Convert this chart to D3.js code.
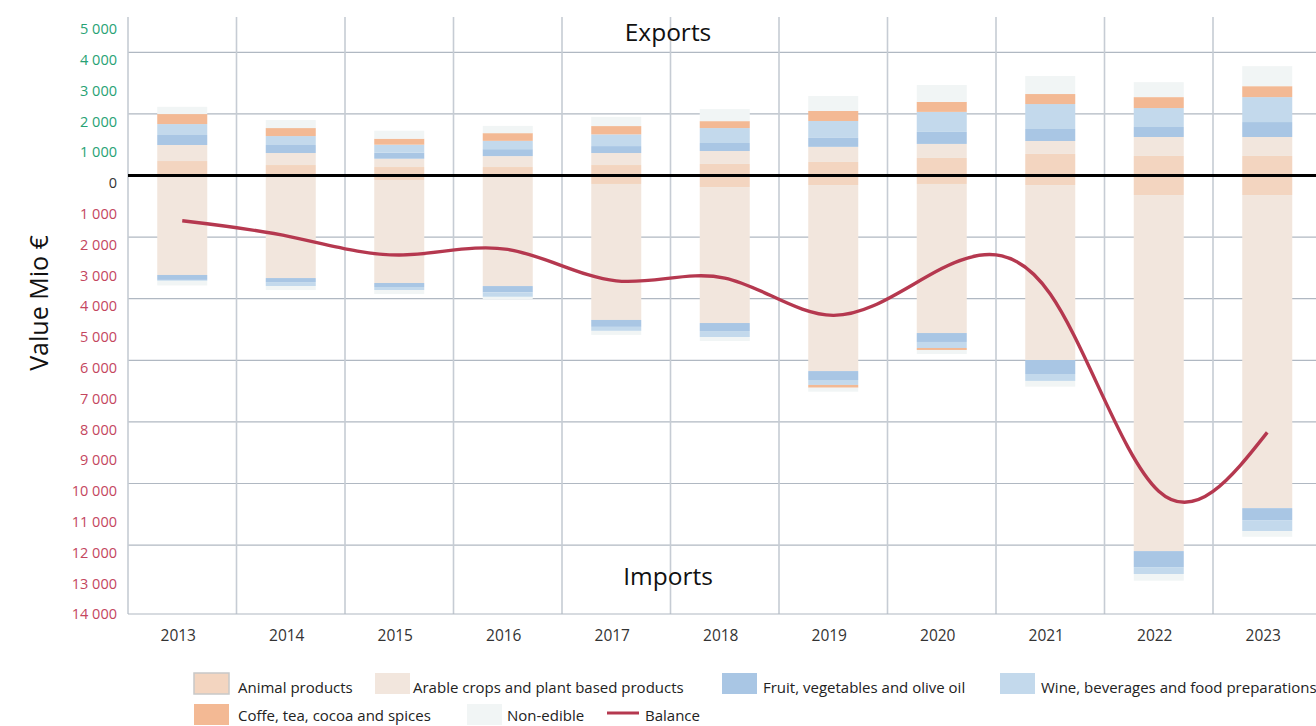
<!DOCTYPE html>
<html>
<head>
<meta charset="utf-8">
<script src="https://cdn.jsdelivr.net/npm/d3@7/dist/d3.min.js"></script>
<style>
  html, body { margin: 0; padding: 0; background: #fff; }
  svg { display: block; font-family: "Open Sans", Lato, sans-serif; }
</style>
</head>
<body>
<svg id="chart" width="1316" height="726"></svg>
<script>
// Agri-food trade by product group, Mio €
const years = ["2013", "2014", "2015", "2016", "2017", "2018", "2019", "2020", "2021", "2022", "2023"];

// Exports (stacked upwards from zero)
const animalExp    = [470, 340, 275, 275, 340, 375, 440, 570, 700, 635, 635];
const arableExp    = [520, 390, 270, 355, 390, 420, 490, 455, 420, 615, 615];
const fruitExp     = [325, 260, 195, 225, 225, 260, 290, 390, 390, 325, 485];
const wineExp      = [355, 290, 260, 270, 380, 485, 550, 650, 810, 615, 810];
const coffeeExp    = [325, 260, 195, 250, 270, 225, 325, 325, 325, 355, 355];
const nonEdibleExp = [235, 260, 260, 235, 300, 390, 485, 550, 585, 485, 650];

// Imports (stacked downwards from zero)
const animalImp    = [30, 30, 145, 30, 275, 375, 310, 275, 310, 635, 635];
const arableImp    = [3200, 3300, 3345, 3560, 4415, 4415, 6040, 4840, 5680, 11560, 10165];
const fruitImp     = [160, 130, 130, 205, 225, 260, 290, 290, 455, 520, 390];
const wineImp      = [30, 130, 100, 145, 130, 195, 160, 195, 225, 225, 355];
const coffeeImp    = [0, 0, 0, 0, 0, 0, 90, 65, 0, 0, 0];
const nonEdibleImp = [150, 130, 130, 75, 130, 130, 130, 130, 185, 215, 185];

// Trade balance (exports minus imports)
const balance = [-1470, -1990, -2580, -2400, -3420, -3330, -4540, -3020, -3850, -10250, -8340];

// Y tick values; imports shown as positive numbers below zero
const yTicks = [5000, 4000, 3000, 2000, 1000, 0, -1000, -2000, -3000, -4000, -5000, -6000,
                -7000, -8000, -9000, -10000, -11000, -12000, -13000, -14000];
const gridValues = [4000, 2000, -2000, -4000, -6000, -8000, -10000, -12000];

const groups = [
  { name: "Animal products", color: "#f3d5c0", exp: animalExp, imp: animalImp },
  { name: "Arable crops and plant based products", color: "#f2e6dd", exp: arableExp, imp: arableImp },
  { name: "Fruit, vegetables and olive oil", color: "#a9c6e4", exp: fruitExp, imp: fruitImp },
  { name: "Wine, beverages and food preparations", color: "#c3d9ec", exp: wineExp, imp: wineImp },
  { name: "Coffe, tea, cocoa and spices", color: "#f3b994", exp: coffeeExp, imp: coffeeImp },
  { name: "Non-edible", color: "#f1f5f5", exp: nonEdibleExp, imp: nonEdibleImp }
];

const svg = d3.select("#chart");
const plot = { left: 128, right: 1321.5, top: 17, bottom: 614 };

const x = d3.scaleBand()
  .domain(years)
  .range([plot.left, plot.right])
  .paddingInner(0.539)
  .paddingOuter(0.2695);
const step = x.step();
const bw = x.bandwidth();

const y = d3.scaleLinear()
  .domain([5146, -14237])
  .range([plot.top, plot.bottom]);

// Horizontal grid
svg.append("g")
  .selectAll("line")
  .data(gridValues)
  .join("line")
  .attr("x1", plot.left).attr("x2", plot.right)
  .attr("y1", d => y(d)).attr("y2", d => y(d))
  .attr("stroke", "#b0b8c2").attr("stroke-width", 1.2);

// Vertical separators between years
const seps = years.map(d => x(d) - (step - bw) / 2).concat([plot.right]);
svg.append("g")
  .selectAll("line")
  .data(seps)
  .join("line")
  .attr("x1", d => d).attr("x2", d => d)
  .attr("y1", plot.top).attr("y2", plot.bottom)
  .attr("stroke", "#c6ccd4").attr("stroke-width", 1.6);

// Stacked bars
const barsG = svg.append("g");
years.forEach((yr, i) => {
  let up = 0, down = 0;
  groups.forEach(g => {
    const ve = g.exp[i];
    if (ve > 0) {
      barsG.append("rect")
        .attr("x", x(yr)).attr("width", bw)
        .attr("y", y(up + ve)).attr("height", y(up) - y(up + ve))
        .attr("fill", g.color);
    }
    up += ve;
    const vi = g.imp[i];
    if (vi > 0) {
      barsG.append("rect")
        .attr("x", x(yr)).attr("width", bw)
        .attr("y", y(down)).attr("height", y(down - vi) - y(down))
        .attr("fill", g.color);
    }
    down -= vi;
  });
});

// Zero line
svg.append("line")
  .attr("x1", plot.left).attr("x2", plot.right)
  .attr("y1", y(0)).attr("y2", y(0))
  .attr("stroke", "#000").attr("stroke-width", 3);

// Bottom axis line
svg.append("line")
  .attr("x1", plot.left).attr("x2", plot.right)
  .attr("y1", plot.bottom).attr("y2", plot.bottom)
  .attr("stroke", "#b0b8c2").attr("stroke-width", 1.2);

// Balance line
const line = d3.line()
  .x((d, i) => x(years[i]) + bw / 2)
  .y(d => y(d))
  .curve(d3.curveNatural);
svg.append("path")
  .datum(balance)
  .attr("d", line)
  .attr("fill", "none")
  .attr("stroke", "#b5384f")
  .attr("stroke-width", 3.4)
  .attr("stroke-linejoin", "round");

// Y axis
const fmt = d3.format(",");
const yAxis = d3.axisLeft(y)
  .tickValues(yTicks)
  .tickSize(0)
  .tickPadding(11)
  .tickFormat(d => fmt(Math.abs(d)).replace(/,/g, " "));
const yg = svg.append("g")
  .attr("transform", `translate(${plot.left},0)`)
  .call(yAxis);
yg.select(".domain").remove();
yg.selectAll("text")
  .attr("y", 7.5)
  .attr("font-size", 14.5)
  .attr("font-family", "'Open Sans', Lato, sans-serif")
  .attr("fill", d => d > 0 ? "#27a274" : d < 0 ? "#c4465e" : "#333");

// X axis
const xAxis = d3.axisBottom(x).tickSize(0).tickPadding(16);
const xg = svg.append("g")
  .attr("transform", `translate(-4,${plot.bottom})`)
  .call(xAxis);
xg.select(".domain").remove();
xg.selectAll("text")
  .attr("font-size", 15.5)
  .attr("font-family", "'Open Sans', Lato, sans-serif")
  .attr("fill", "#333");

// Titles
svg.append("text")
  .attr("x", 668).attr("y", 41)
  .attr("text-anchor", "middle")
  .attr("font-size", 24.5).attr("fill", "#111")
  .text("Exports");
svg.append("text")
  .attr("x", 668).attr("y", 585)
  .attr("text-anchor", "middle")
  .attr("font-size", 24.5).attr("fill", "#111")
  .text("Imports");
svg.append("text")
  .attr("transform", "translate(48,303) rotate(-90)")
  .attr("text-anchor", "middle")
  .attr("font-size", 25).attr("fill", "#111")
  .text("Value Mio €");

// Legend
const legendItems = [
  { g: 0, sx: 194, tx: 238, row: 0, border: true },
  { g: 1, sx: 375, tx: 413, row: 0 },
  { g: 2, sx: 722, tx: 763, row: 0 },
  { g: 3, sx: 1000, tx: 1041, row: 0 },
  { g: 4, sx: 194, tx: 238, row: 1 },
  { g: 5, sx: 467, tx: 507, row: 1 }
];
const rowTop = [673, 704];
const rowBase = [693, 721];
const lg = svg.append("g").attr("font-size", 15).attr("fill", "#222");
legendItems.forEach(it => {
  lg.append("rect")
    .attr("x", it.sx).attr("y", rowTop[it.row])
    .attr("width", 35).attr("height", 21)
    .attr("fill", groups[it.g].color)
    .attr("stroke", it.border ? "#c8c8c8" : "none")
    .attr("stroke-width", it.border ? 1.5 : 0);
  lg.append("text")
    .attr("x", it.tx).attr("y", rowBase[it.row])
    .text(groups[it.g].name);
});
lg.append("line")
  .attr("x1", 607).attr("x2", 639)
  .attr("y1", 713).attr("y2", 713)
  .attr("stroke", "#b5384f").attr("stroke-width", 3);
lg.append("text")
  .attr("x", 645).attr("y", rowBase[1])
  .text("Balance");
</script>
</body>
</html>
